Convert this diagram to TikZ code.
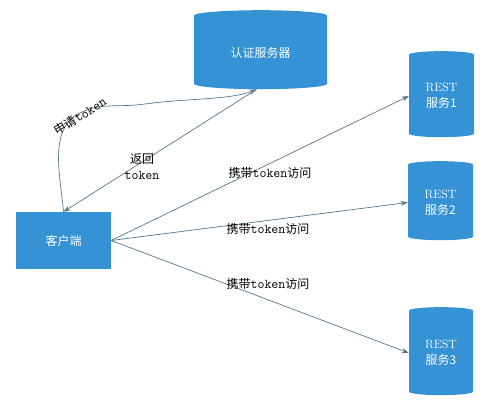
\documentclass[tikz,border=0pt]{standalone}
\usepackage{fontspec}
\newfontfamily\cjk{Noto Sans CJK SC}
\usetikzlibrary{arrows.meta, shapes.geometric}
\definecolor{dbblue}{HTML}{3592D4}
\definecolor{lnslate}{HTML}{56758A}
\newcommand\tokword{{\ttfamily\fontsize{13.5}{16}\selectfont token}}

\begin{document}
\begin{tikzpicture}[
    x=1pt, y=-1pt,
    >={Stealth[length=7pt, width=5pt]},
    every node/.style={font=\cjk\fontsize{12}{16}\selectfont},
  ]

  % Canvas
  \useasboundingbox (0,0) rectangle (493,404);

  % --- Styles ---
  \tikzset{
    dbnode/.style={cylinder, shape border rotate=90, fill=dbblue, draw=none,
                   text=white, align=center, inner sep=0pt},
    boxnode/.style={rectangle, fill=dbblue, draw=none, text=white,
                    minimum width=95pt, minimum height=57pt},
    link/.style={->, lnslate, line width=0.7pt},
    lbl/.style={text=black, inner sep=1pt, align=center},
  }

  % --- Servers ---
  \node[dbnode, minimum width=133pt, minimum height=79pt, aspect=0.18]
    (auth) at (260.5,52.5) {认证服务器};
  \node[dbnode, minimum width=65pt, minimum height=86pt, aspect=0.22]
    (rest1) at (441.5,96) {{\rmfamily REST}\\服务1};
  \node[dbnode, minimum width=65pt, minimum height=79pt, aspect=0.22]
    (rest2) at (440.5,202.5) {{\rmfamily REST}\\服务2};
  \node[dbnode, minimum width=64pt, minimum height=88pt, aspect=0.22]
    (rest3) at (441,353) {{\rmfamily REST}\\服务3};

  % --- Client ---
  \node[boxnode] (client) at (63.5,240.5) {客户端};

  % --- Token exchange ---
  \draw[link] (client.north)
    .. controls (61,180) and (48,130) .. (78,114)
    .. controls (100,102) and (115,108) .. (145,104)
    .. controls (190,98) and (230,100) .. ([xshift=-4pt]auth.south);
  \node[lbl, rotate=32] (ask) at (80,116) {申请\tokword};

  \draw[link] ([xshift=-4pt]auth.south) -- (client.north);
  \node[lbl] (back) at (142,167) {返回\\\tokword};

  % --- Service calls ---
  \draw[link] (client.east) -- (rest1.west);
  \draw[link] (client.east) -- (rest2.west);
  \draw[link] (client.east) -- (rest3.west);
  \node[lbl] (call1) at (270,173) {携带\tokword 访问};
  \node[lbl] (call2) at (268,229) {携带\tokword 访问};
  \node[lbl] (call3) at (268,284) {携带\tokword 访问};

\end{tikzpicture}
\end{document}
